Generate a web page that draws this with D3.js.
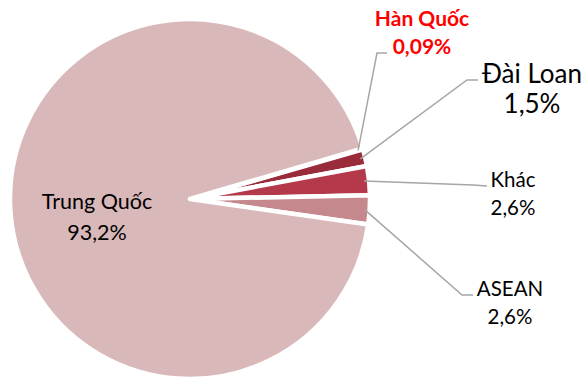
<!DOCTYPE html>
<html>
<head>
<meta charset="utf-8">
<script src="https://cdn.jsdelivr.net/npm/d3@7"></script>
<style>
  html, body { margin: 0; padding: 0; background: #fff; }
  svg { display: block; }
  text { font-family: Lato, "Open Sans", sans-serif; }
</style>
</head>
<body>
<svg id="chart" width="587" height="378"></svg>
<script>
// Slices in clockwise order, starting just above 3 o'clock
const categories = ["Hàn Quốc", "Đài Loan", "Khác", "ASEAN", "Trung Quốc"];
const shares = [0.09, 1.5, 2.6, 2.6, 93.2];
const shareLabels = ["0,09%", "1,5%", "2,6%", "2,6%", "93,2%"];
const sliceColors = ["#7d1f2d", "#9a2b3b", "#b43a4b", "#c5898d", "#d9b8ba"];

const width = 587, height = 378;
const cx = 190, cy = 199, radius = 180;
const startDeg = 73.7;

const svg = d3.select("#chart");
const g = svg.append("g").attr("transform", `translate(${cx},${cy})`);

const data = categories.map((c, i) => ({ name: c, value: shares[i], label: shareLabels[i], color: sliceColors[i] }));

const pie = d3.pie()
  .sort(null)
  .value(d => d.value)
  .startAngle(startDeg * Math.PI / 180)
  .endAngle(startDeg * Math.PI / 180 + 2 * Math.PI);

const arcs = pie(data);
const arc = d3.arc().innerRadius(0).outerRadius(radius);

g.selectAll("path.slice")
  .data(arcs)
  .join("path")
  .attr("class", "slice")
  .attr("d", arc)
  .attr("fill", d => d.data.color)
  .attr("stroke", "#fff")
  .attr("stroke-width", 4.5)
  .attr("stroke-linejoin", "round");

// Label placement for each category: text centre, first baseline, line gap, size, style
const labelLayout = {
  "Hàn Quốc":   { x: 422, y: 26,  gap: 28, size: 21, bold: true,  color: "#ff0000", elbow: [377, 53], end: [387, 53] },
  "Đài Loan":   { x: 532, y: 83,  gap: 30, size: 26, bold: false, color: "#000", elbow: [467, 80], end: [478, 80] },
  "Khác":       { x: 513, y: 187, gap: 28, size: 20.5, bold: false, color: "#000", elbow: [473, 185], end: [487, 186] },
  "ASEAN":      { x: 510, y: 296, gap: 28, size: 20.5, bold: false, color: "#000", elbow: [462, 295], end: [473, 295] },
  "Trung Quốc": { x: 97,  y: 209, gap: 31, size: 21.5, bold: false, color: "#000" }
};

// Leader lines from the rim of each small slice to its label
arcs.forEach(a => {
  const L = labelLayout[a.data.name];
  if (!L.elbow) return;
  const mid = (a.startAngle + a.endAngle) / 2;
  const r = radius - 5;
  const sx = cx + r * Math.sin(mid), sy = cy - r * Math.cos(mid);
  svg.append("polyline")
    .attr("points", [[sx, sy], L.elbow, L.end].map(p => p.join(",")).join(" "))
    .attr("fill", "none")
    .attr("stroke", "#a6a6a6")
    .attr("stroke-width", 1.5);
});

// Category name and share
arcs.forEach(a => {
  const L = labelLayout[a.data.name];
  const t = svg.append("text")
    .attr("text-anchor", "middle")
    .attr("fill", L.color)
    .attr("font-size", L.size)
    .attr("font-weight", L.bold ? 700 : 400);
  t.append("tspan").attr("x", L.x).attr("y", L.y).text(a.data.name);
  t.append("tspan").attr("x", L.x).attr("y", L.y + L.gap).text(a.data.label);
});
</script>
</body>
</html>
